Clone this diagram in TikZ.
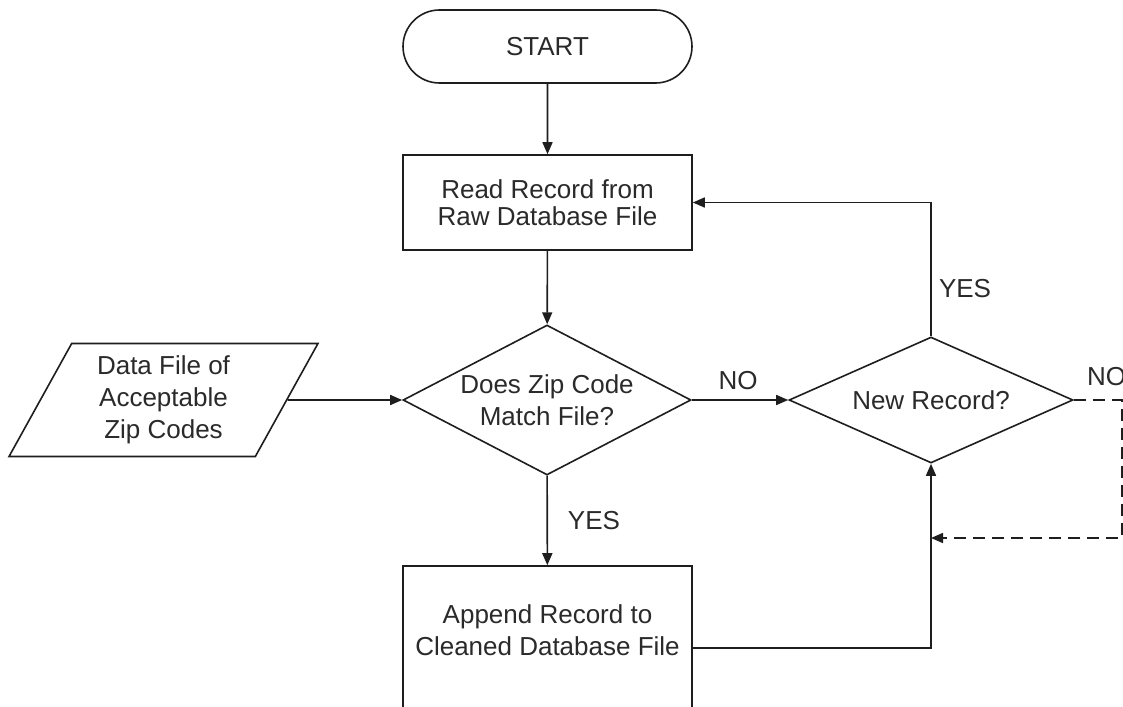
\documentclass[tikz,border=0pt]{standalone}
\usepackage{fontspec}
\setmainfont{Liberation Sans}
\usetikzlibrary{shapes.geometric,shapes.misc,arrows.meta}
\definecolor{linec}{HTML}{1E1E1E}
\definecolor{textc}{HTML}{2A2A2A}
\tikzset{
  base/.style={draw=linec, line width=1.6pt, text=textc, align=center, inner sep=0pt,
    font=\fontsize{26}{32}\selectfont},
  termbox/.style={base, rounded rectangle, minimum width=289pt, minimum height=73pt},
  procbox/.style={base, rectangle, minimum width=289pt},
  decbox/.style={base, diamond, aspect=2},
  iobox/.style={base, trapezium, trapezium left angle=62.8, trapezium right angle=117.2,
    trapezium stretches=true, minimum width=309pt, minimum height=113pt},
  conn/.style={draw=linec, line width=1.6pt, -{Triangle[length=12pt,width=10pt]}},
  dconn/.style={conn, dash pattern=on 12pt off 7pt},
  lbl/.style={text=textc, inner sep=0pt, font=\fontsize{26}{32}\selectfont, anchor=base}
}
\begin{document}
\begin{tikzpicture}[x=1pt,y=-1pt]
\useasboundingbox (0,0) rectangle (1123,706);
\clip (0,0) rectangle (1123,706);
\fill[white] (0,0) rectangle (1123,706);
\node[termbox] (start) at (547.5,46.5) {START};
\node[procbox, minimum height=95pt, font=\fontsize{26}{27}\selectfont] (read) at (547.5,202.5) {Read Record from\\Raw Database File};
\node[decbox, minimum width=288pt, minimum height=150pt] (d1) at (547,400) {Does Zip Code\\Match File?};
\node[iobox] (data) at (163.5,400) {Data File of\\Acceptable\\Zip Codes};
\node[decbox, minimum width=284pt, minimum height=126pt] (d2) at (931,400) {New Record?};
\node[procbox, minimum height=164pt] (app) at (547.5,648) {};
\node[lbl, anchor=center, align=center] (apptext) at (547.5,630.5) {Append Record to\\Cleaned Database File};
\coordinate (nr) at (1122,400);
\coordinate (nb) at (1122,538);
\coordinate (mj) at (931,538);
\draw[conn] (start) -- (read);
\draw[conn] (read) -- (d1);
\draw[conn] (data) -- (d1);
\draw[conn] (d1) -- (d2);
\draw[conn] (d1) -- (app);
\draw[conn] (d2.north) |- (read.east);
\draw[conn] (app.east) -| (d2.south);
\draw[dconn] (d2.east) -- (nr) -- (nb) -- (mj);
\node[lbl] (no1) at (738,389) {NO};
\node[lbl] (yes1) at (965,297) {YES};
\node[lbl] (yes2) at (594,529) {YES};
\node[lbl, anchor=base west] (no2) at (1087,385) {NO};
\end{tikzpicture}
\end{document}
